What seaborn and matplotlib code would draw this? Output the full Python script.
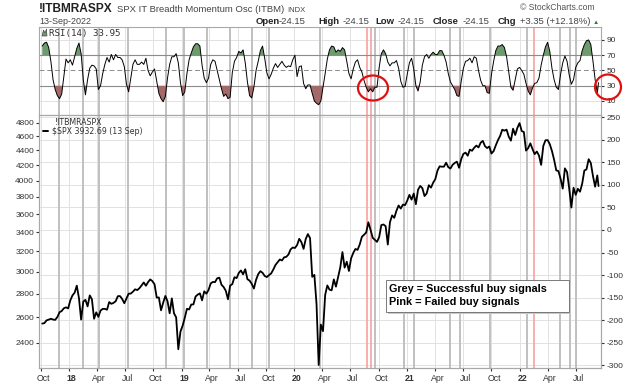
import matplotlib
matplotlib.use("Agg")
import matplotlib.pyplot as plt
import matplotlib.transforms as mtransforms
from matplotlib.patches import Ellipse, Rectangle, Polygon
from matplotlib.lines import Line2D
import pandas as pd
import seaborn as sns

W, H = 638, 384

# $SPX weekly closes (Fridays)
spx_2017 = [2549, 2553, 2575, 2581, 2588, 2582, 2579, 2602, 2642, 2652, 2675, 2683, 2674]
spx_2018 = [2743, 2786, 2810, 2873, 2762, 2581, 2732, 2747, 2691, 2786, 2752, 2588, 2641,
            2604, 2656, 2670, 2670, 2663, 2728, 2713, 2721, 2735, 2779, 2780, 2755, 2718,
            2760, 2801, 2802, 2819, 2840, 2833, 2850, 2875, 2902, 2872, 2905, 2930, 2914,
            2885, 2767, 2768, 2658, 2723, 2781, 2736, 2633, 2760, 2633, 2600, 2351, 2486]
spx_2019 = [2532, 2596, 2671, 2665, 2707, 2708, 2776, 2793, 2804, 2743, 2822, 2801, 2834,
            2893, 2907, 2905, 2940, 2946, 2881, 2860, 2826, 2752, 2873, 2887, 2950, 2942,
            2990, 3014, 2977, 3026, 2932, 2919, 2889, 2847, 2926, 2979, 3007, 2992, 2962,
            2952, 2970, 2986, 3023, 3067, 3093, 3120, 3110, 3141, 3146, 3169, 3221, 3240]
spx_2020 = [3235, 3265, 3330, 3295, 3226, 3328, 3380, 3338, 2954, 2972, 2711, 2237, 2541,
            2489, 2790, 2875, 2837, 2831, 2930, 2864, 2955, 3044, 3194, 3041, 3098, 3009,
            3130, 3185, 3225, 3216, 3271, 3351, 3373, 3397, 3508, 3427, 3341, 3319, 3298,
            3348, 3477, 3484, 3465, 3270, 3510, 3585, 3558, 3638, 3699, 3663, 3709, 3703, 3756]
spx_2021 = [3825, 3768, 3841, 3714, 3887, 3934, 3907, 3811, 3842, 3943, 3913, 3975, 4020,
            4129, 4185, 4180, 4181, 4233, 4174, 4156, 4204, 4230, 4247, 4166, 4281, 4352,
            4370, 4327, 4412, 4395, 4437, 4468, 4442, 4509, 4535, 4459, 4433, 4455, 4357,
            4391, 4471, 4545, 4605, 4697, 4683, 4698, 4595, 4538, 4712, 4620, 4725, 4796]
spx_2022 = [4677, 4663, 4398, 4432, 4500, 4419, 4349, 4385, 4329, 4204, 4463, 4543, 4546,
            4488, 4393, 4272, 4132, 4123, 4024, 3901, 4158, 4109, 3901, 3675, 3912, 3825,
            3899, 3863, 3962, 4130, 4145, 4280, 4228, 4058, 3924, 4067]
spx_last = 3932.69

# RSI(14) of !ITBMRASPX, weekly readings
rsi_2017 = [82, 86, 87, 80, 62, 38, 25, 17, 13, 19, 42, 65, 60]
rsi_2018 = [64, 57, 68, 79, 86, 72, 38, 18, 38, 53, 57, 56, 52, 25, 30, 46, 58, 67, 61,
            71, 64, 71, 67, 67, 64, 55, 32, 22, 40, 58, 64, 58, 58, 61, 58, 66, 50, 43,
            48, 52, 36, 20, 13, 9, 16, 40, 58, 68, 68, 72, 60, 34]
rsi_2019 = [17, 22, 46, 64, 73, 81, 85, 85, 82, 57, 40, 34, 40, 58, 64, 62, 50, 38, 26,
            16, 19, 13, 15, 47, 62, 67, 75, 73, 77, 60, 35, 17, 14, 28, 50, 62, 76, 82,
            66, 47, 39, 45, 53, 59, 54, 58, 62, 57, 54, 56, 55, 64]
rsi_2020 = [70, 42, 55, 56, 33, 26, 31, 31, 20, 10, 7, 5, 10, 28, 46, 65, 77, 82, 81,
            74, 77, 75, 80, 77, 62, 46, 39, 52, 61, 64, 54, 48, 37, 28, 22, 26, 22, 28,
            28, 54, 72, 77, 72, 61, 56, 60, 60, 63, 53, 36, 28, 29, 45]
rsi_2021 = [60, 66, 52, 30, 23, 35, 57, 68, 71, 66, 71, 74, 71, 71, 76, 76, 70, 61, 46,
            35, 30, 25, 17, 16, 36, 53, 62, 63, 66, 60, 68, 66, 50, 37, 30, 30, 21, 20,
            45, 62, 76, 82, 82, 84, 80, 68, 48, 28, 24, 38, 52, 54]
rsi_2022 = [50, 45, 33, 23, 18, 27, 33, 34, 40, 57, 70, 81, 87, 75, 53, 38, 28, 25, 45,
            60, 69, 62, 44, 32, 38, 54, 60, 63, 76, 84, 89, 90, 84, 62, 38, 20]
rsi_last = 33.95

last_date = "2022-09-13"

# buy-signal markers
grey_signals = ["2017-11-29", "2018-02-15", "2018-04-08", "2018-07-11", "2018-11-11",
                "2019-01-08", "2019-03-24", "2019-06-07", "2019-08-17", "2019-10-11",
                "2020-03-24", "2020-09-20", "2020-12-23", "2021-01-24", "2021-05-18",
                "2021-06-22", "2021-09-27", "2022-01-25", "2022-05-11", "2022-06-13",
                "2022-07-02"]
pink_signals = ["2020-08-25", "2020-09-07", "2022-02-17"]

rsi_ticks = [10, 30, 50, 70, 90]
itbm_ticks = [250, 200, 150, 100, 50, 0, -50, -100, -150, -200, -250, -300]
spx_ticks = [2400, 2600, 2800, 3000, 3200, 3400, 3600, 3800, 4000, 4200, 4400, 4600, 4800]


def fx(px):
    return px / W


def fy(py):
    return 1 - py / H


sns.set_style("white")
plt.rcParams["font.family"] = ["Liberation Sans", "DejaVu Sans"]

spx = spx_2017 + spx_2018 + spx_2019 + spx_2020 + spx_2021 + spx_2022
rsi = rsi_2017 + rsi_2018 + rsi_2019 + rsi_2020 + rsi_2021 + rsi_2022
df_spx = pd.DataFrame({
    "date": list(pd.date_range("2017-10-06", periods=len(spx), freq="W-FRI")) + [pd.Timestamp(last_date)],
    "close": spx + [spx_last],
})
df_rsi = pd.DataFrame({
    "date": list(pd.date_range("2017-10-06", periods=len(rsi), freq="W-FRI")) + [pd.Timestamp(last_date)],
    "rsi": rsi + [rsi_last],
})

fig = plt.figure(figsize=(W / 100, H / 100), dpi=100)
x0, x1 = 39, 601
ax_rsi = fig.add_axes([fx(x0), fy(115), (x1 - x0) / W, (115 - 27) / H])
ax_main = fig.add_axes([fx(x0), fy(368), (x1 - x0) / W, (368 - 115) / H], sharex=ax_rsi)
ax_spx = ax_main.twinx()

xlim = (pd.Timestamp("2017-09-25 12:00"), pd.Timestamp("2022-09-21"))
grid_c = "#e2e2e2"
edge_c = "#a8a8a8"
txt_c = "#333333"

for ax in (ax_rsi, ax_main):
    for d in grey_signals:
        ax.axvline(pd.Timestamp(d), color="#c0c0c0", lw=1.4, zorder=1)
    for d in pink_signals:
        ax.axvline(pd.Timestamp(d), color="#f5a3a3", lw=1.2, zorder=1)

# --- RSI panel ---
ax_rsi.set_ylim(-8.4, 107)
for v in (10, 90):
    ax_rsi.axhline(v, color=grid_c, lw=0.7, zorder=0)
ax_rsi.axhline(70, color="#8c8c8c", lw=0.8, zorder=2)
ax_rsi.axhline(30, color="#8c8c8c", lw=0.8, zorder=2)
ax_rsi.axhline(50, color="#8c8c8c", lw=0.7, ls=(0, (5, 3)), zorder=2)
ax_rsi.fill_between(df_rsi["date"], df_rsi["rsi"], 70, where=df_rsi["rsi"] >= 70,
                    interpolate=True, color="#6e9a6e", lw=0, zorder=3)
ax_rsi.fill_between(df_rsi["date"], df_rsi["rsi"], 30, where=df_rsi["rsi"] <= 30,
                    interpolate=True, color="#a46a6a", lw=0, zorder=3)
sns.lineplot(data=df_rsi, x="date", y="rsi", ax=ax_rsi, color="black", lw=0.7, zorder=4)
ax_rsi.yaxis.tick_right()
ax_rsi.set_yticks(rsi_ticks)
ax_rsi.set_yticklabels([str(t) for t in rsi_ticks])
ax_rsi.set_ylabel("")
ax_rsi.set_xlabel("")
ax_rsi.tick_params(axis="y", right=True, length=2, pad=2, labelsize=6, colors=txt_c)
ax_rsi.tick_params(axis="x", bottom=False, labelbottom=False)

# --- price panel: ITBM scale (right, invisible series) + $SPX log scale (left) ---
ax_main.set_ylim(-306, 255)
ax_main.yaxis.tick_right()
ax_main.set_yticks(itbm_ticks)
ax_main.set_yticklabels([str(t) for t in itbm_ticks])
for t in itbm_ticks:
    ax_main.axhline(t, color=grid_c, lw=0.7, zorder=0)
ax_main.tick_params(axis="y", right=True, left=False, length=2, pad=2, labelsize=6, colors=txt_c)

ax_spx.set_yscale("log")
ax_spx.set_ylim(2216, 4920)
sns.lineplot(data=df_spx, x="date", y="close", ax=ax_spx, color="black", lw=1.3, zorder=5)
ax_spx.yaxis.tick_left()
ax_spx.yaxis.set_minor_locator(matplotlib.ticker.NullLocator())
ax_spx.set_yticks(spx_ticks)
ax_spx.set_yticklabels([str(t) for t in spx_ticks])
ax_spx.tick_params(axis="y", left=True, right=False, length=2, pad=1.5, labelsize=6, colors=txt_c)
ax_spx.set_ylabel("")
ax_main.set_ylabel("")

quarters = pd.date_range("2017-10-01", "2022-07-01", freq="QS-JAN")
ax_main.set_xlim(*xlim)
for q in quarters:
    for ax in (ax_rsi, ax_main):
        ax.axvline(q, color=grid_c, lw=0.7, zorder=0)
ax_main.set_xticks(quarters)
ax_main.set_xticklabels([q.strftime("%y") if q.month == 1 else q.strftime("%b") for q in quarters])
ax_main.tick_params(axis="x", bottom=True, length=2, pad=2, labelsize=6.3, colors=txt_c)
shift = mtransforms.ScaledTranslation(2.5 / 100, 0, fig.dpi_scale_trans)
for lab, q in zip(ax_main.get_xticklabels(), quarters):
    lab.set_transform(lab.get_transform() + shift)
    if q.month == 1:
        lab.set_fontweight("bold")
ax_main.set_xlabel("")
ax_spx.set_xlabel("")

for ax in (ax_rsi, ax_main, ax_spx):
    for s in ax.spines.values():
        s.set_color(edge_c)
        s.set_linewidth(0.8)

# --- header ---
fig.text(fx(39), fy(12), "!ITBMRASPX", fontsize=8.6, weight="bold", color="#222222")
fig.text(fx(117), fy(12), "SPX IT Breadth Momentum Osc (ITBM)", fontsize=6.8, color="#444444")
fig.text(fx(287), fy(12), "INDX", fontsize=5.5, color="#444444")
fig.text(fx(39), fy(24), "13-Sep-2022", fontsize=6.5, color="#444444")
fig.text(fx(520), fy(10), "\u00a9 StockCharts.com", fontsize=6.2, color="#555555")
header = [(256, "Open", True), (279, "-24.15", False), (318, "High", True), (343, "-24.15", False),
          (375, "Low", True), (398, "-24.15", False), (433, "Close", True), (463, "-24.15", False),
          (498, "Chg", True), (520, "+3.35 (+12.18%)", False)]
for px, s, bold in header:
    fig.text(fx(px), fy(24), s, fontsize=6.8, weight="bold" if bold else "normal",
             color="#222222" if bold else "#444444")
fig.text(fx(593), fy(24), "\u25b2", fontsize=4.5, color="#2e7d32")

# RSI label with its little area icon
fig.add_artist(Polygon([(fx(42), fy(36)), (fx(43.5), fy(30)), (fx(45), fy(33)), (fx(46.5), fy(29)),
                        (fx(47), fy(36))], closed=True, transform=fig.transFigure,
                       facecolor="#6e9a6e", edgecolor="#333333", lw=0.4))
fig.text(fx(49), fy(36), "RSI(14) 33.95", fontsize=6.6, family="DejaVu Sans Mono", color="#333333")

# price legend
fig.text(fx(55), fy(125), "!ITBMRASPX", fontsize=5.7, family="DejaVu Sans", color="#333333")
fig.add_artist(Line2D([fx(43), fx(48)], [fy(131), fy(131)], transform=fig.transFigure,
                      color="black", lw=1.4))
fig.text(fx(52), fy(134), "$SPX 3932.69 (13 Sep)", fontsize=5.7, family="DejaVu Sans", color="#333333")

# annotation box
fig.add_artist(Rectangle((fx(387.5), fy(313.5)), (570.5 - 387.5) / W, (313.5 - 281.5) / H,
                         transform=fig.transFigure, facecolor="#c8c8c8", edgecolor="none", zorder=10))
fig.add_artist(Rectangle((fx(386), fy(312)), (569 - 386) / W, (312 - 280) / H,
                         transform=fig.transFigure, facecolor="white", edgecolor="#666666", lw=0.6, zorder=11))
fig.text(fx(389), fy(292), "Grey = Successful buy signals", fontsize=7.8, weight="bold", color="black", zorder=12)
fig.text(fx(389), fy(305), "Pink = Failed buy signals", fontsize=7.8, weight="bold", color="black", zorder=12)

# red circles around the failed signal area and the latest reading
for cx, cy, w, h in [(373, 88, 30, 25), (608, 87, 26, 25)]:
    fig.add_artist(Ellipse((fx(cx), fy(cy)), w / W, h / H, transform=fig.transFigure,
                           fill=False, edgecolor="#e01010", lw=1.6, zorder=20))

fig.savefig("out.png", dpi=100)
